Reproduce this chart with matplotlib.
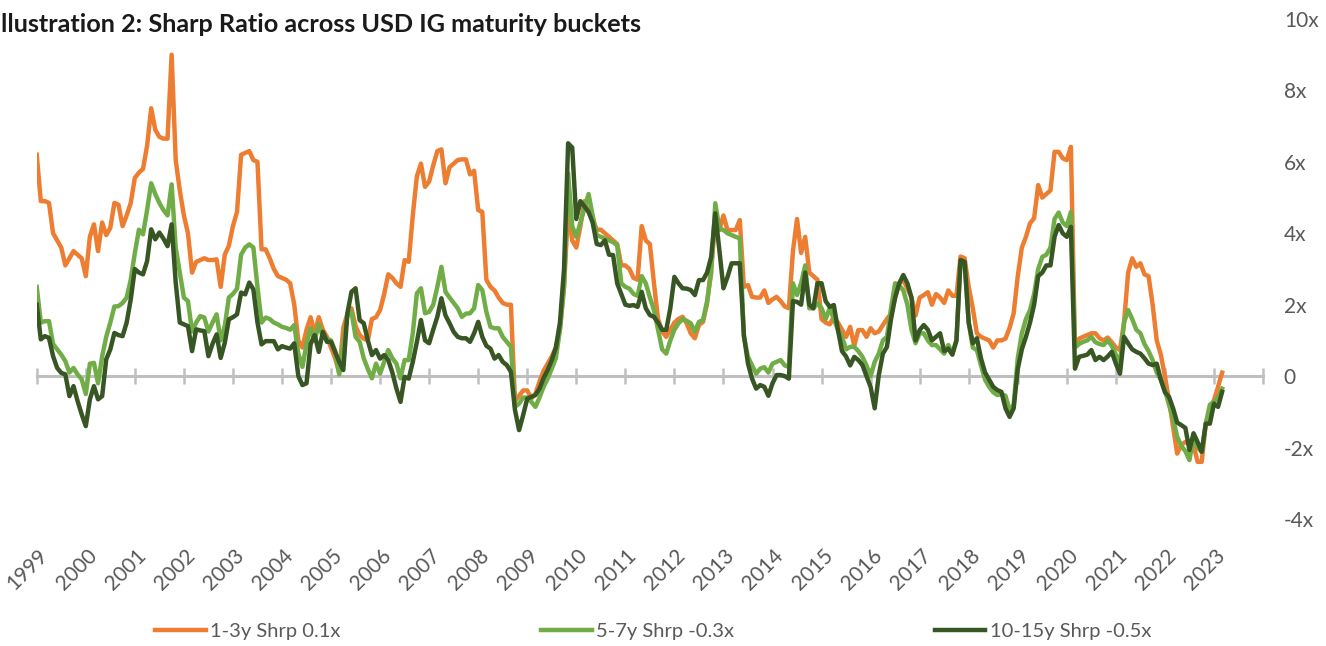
import numpy as np
import matplotlib
matplotlib.use("Agg")
import matplotlib.pyplot as plt
import matplotlib.transforms as mtransforms

# monthly Sharpe ratios, Jan 1999 .. Mar 2023 (one row per year)
short_1_3y = [
    6.2, 4.9, 4.9, 4.85, 4.0, 3.8, 3.6, 3.1, 3.3, 3.5, 3.4, 3.3,
    2.8, 3.9, 4.25, 3.5, 4.3, 3.95, 4.15, 4.85, 4.8, 4.2, 4.5, 4.85,
    5.55, 5.7, 5.8, 6.45, 7.5, 6.9, 6.7, 6.65, 6.65, 9.0, 6.05, 5.2,
    4.5, 4.0, 2.9, 3.2, 3.25, 3.3, 3.25, 3.25, 3.27, 2.5, 3.4, 3.65,
    4.2, 4.6, 6.2, 6.25, 6.3, 6.05, 6.0, 3.55, 3.55, 3.3, 3.0, 2.8,
    2.75, 2.7, 2.6, 2.0, 1.0, 0.8, 1.3, 1.65, 1.2, 1.65, 1.3, 1.1,
    0.8, 0.5, 0.1, 1.35, 1.75, 1.9, 1.4, 1.15, 1.05, 1.0, 1.6, 1.65,
    1.85, 2.3, 2.85, 2.75, 2.6, 2.5, 3.25, 3.2, 4.5, 5.6, 5.95, 5.3,
    5.45, 5.9, 6.3, 6.35, 5.4, 5.85, 5.95, 6.05, 6.07, 6.07, 5.65, 5.75,
    4.65, 4.6, 2.7, 2.5, 2.4, 2.2, 2.05, 2.0, 2.0, -0.7, -0.55, -0.4,
    -0.4, -0.62, -0.5, -0.15, 0.15, 0.35, 0.55, 0.8, 1.3, 2.5, 4.65, 3.8,
    3.6, 4.2, 4.9, 4.6, 4.4, 4.1, 4.1, 4.0, 3.9, 3.8, 3.7, 3.1,
    3.1, 3.0, 2.75, 2.7, 4.2, 3.8, 3.7, 2.6, 1.6, 1.25, 1.1, 1.3,
    1.5, 1.6, 1.66, 1.48, 1.2, 1.06, 1.43, 1.52, 2.04, 3.06, 4.28, 4.09,
    4.5, 4.09, 4.09, 4.09, 4.37, 2.5, 2.55, 2.22, 2.2, 2.2, 2.4, 2.05,
    2.15, 2.22, 2.1, 1.95, 1.9, 3.5, 4.4, 3.45, 3.9, 2.9, 2.8, 2.7,
    1.6, 1.5, 1.45, 1.66, 1.5, 1.3, 1.1, 1.38, 0.85, 1.29, 1.29, 1.1,
    1.34, 1.2, 1.25, 1.43, 1.6, 1.75, 2.2, 2.6, 2.69, 2.45, 2.2, 1.7,
    2.2, 2.27, 2.35, 2.0, 2.3, 2.2, 2.05, 2.4, 2.25, 2.25, 3.35, 3.3,
    2.5, 1.9, 1.2, 1.1, 1.05, 1.0, 0.8, 1.0, 1.0, 1.05, 1.35, 1.76,
    2.8, 3.6, 3.9, 4.28, 4.42, 5.35, 5.0, 5.1, 5.2, 6.28, 6.28, 6.1,
    6.05, 6.42, 0.8, 1.05, 1.1, 1.15, 1.2, 1.2, 1.06, 1.0, 1.08, 0.95,
    0.8, 0.73, 1.5, 2.9, 3.3, 3.06, 3.16, 2.85, 2.8, 2.0, 1.0, 0.6,
    0.0, -0.67, -1.42, -2.17, -1.93, -1.84, -1.9, -1.93, -2.4, -2.4, -1.33, -0.95,
    -0.67, -0.3, 0.1,
]

mid_5_7y = [
    2.5, 1.5, 1.54, 1.54, 0.9, 0.75, 0.6, 0.42, 0.1, 0.23, 0.05, -0.09,
    -0.5, 0.35, 0.37, -0.2, 0.55, 1.1, 1.5, 1.95, 1.96, 2.05, 2.2, 2.7,
    3.45, 4.1, 3.97, 4.65, 5.4, 5.1, 4.85, 4.65, 4.5, 5.37, 3.6, 2.9,
    2.2, 2.1, 1.25, 1.5, 1.68, 1.64, 1.25, 1.5, 1.73, 1.0, 1.4, 2.2,
    2.3, 2.45, 3.4, 3.6, 3.69, 3.6, 2.5, 1.5, 1.64, 1.6, 1.5, 1.45,
    1.38, 1.35, 1.3, 1.43, 0.63, 0.26, 0.9, 1.34, 1.0, 1.45, 1.1, 1.05,
    1.0, 0.7, 0.05, 0.9, 1.7, 1.8, 1.1, 0.96, 0.5, 0.2, -0.06, 0.35,
    0.07, 0.4, 0.73, 0.5, 0.35, -0.06, 0.45, 0.45, 1.2, 2.32, 2.46, 1.76,
    1.8, 2.0, 2.5, 3.06, 2.36, 2.2, 2.05, 1.9, 1.66, 1.75, 1.76, 1.9,
    2.55, 2.41, 1.8, 1.38, 1.34, 1.34, 1.1, 0.96, 0.82, -0.86, -0.77, -0.6,
    -0.6, -0.72, -0.86, -0.6, -0.3, -0.07, 0.21, 0.5, 1.3, 2.5, 5.68, 4.2,
    3.9, 4.3, 4.7, 5.1, 4.5, 3.95, 3.9, 3.85, 3.8, 3.75, 3.67, 2.6,
    2.5, 2.45, 2.3, 2.25, 2.8, 2.6, 2.2, 1.85, 1.3, 0.75, 0.63, 1.0,
    1.3, 1.48, 1.6, 1.55, 1.48, 1.24, 1.52, 1.57, 2.1, 2.88, 4.84, 4.14,
    4.09, 4.0, 3.95, 3.9, 3.86, 1.1, 0.54, 0.3, 0.07, 0.21, 0.25, 0.1,
    0.35, 0.4, 0.45, 0.3, 0.26, 2.6, 2.27, 2.6, 3.1, 1.9, 1.9, 2.04,
    1.9, 1.6, 1.9, 1.6, 1.3, 1.1, 0.75, 0.82, 0.82, 0.7, 0.54, 0.3,
    0.0, 0.4, 0.63, 1.0, 1.1, 1.9, 2.6, 2.55, 2.4, 2.0, 1.3, 0.92,
    1.2, 1.2, 1.0, 0.87, 0.87, 0.75, 0.63, 0.87, 0.65, 1.0, 3.25, 3.2,
    1.5, 0.8, 0.73, 0.3, -0.1, -0.3, -0.45, -0.53, -0.5, -0.55, -0.95, -0.8,
    0.5, 1.2, 1.6, 1.85, 2.3, 3.0, 3.34, 3.4, 3.6, 4.4, 4.58, 4.3,
    4.2, 4.6, 0.8, 0.9, 0.96, 1.0, 1.1, 0.95, 0.9, 0.87, 1.0, 0.85,
    0.6, 0.35, 1.5, 1.85, 1.6, 1.3, 1.2, 0.9, 0.7, 0.45, 0.1, -0.1,
    -0.4, -0.8, -1.2, -1.7, -1.95, -2.1, -2.35, -1.7, -2.0, -2.12, -1.33, -0.8,
    -0.72, -0.6, -0.35,
]

long_10_15y = [
    2.0, 1.03, 1.12, 1.07, 0.56, 0.23, 0.09, 0.05, -0.56, -0.28, -0.7, -1.07,
    -1.4, -0.65, -0.28, -0.65, -0.56, 0.47, 0.75, 1.21, 1.15, 1.12, 1.5, 2.15,
    3.0, 2.9, 2.85, 3.22, 4.11, 3.83, 4.02, 3.85, 3.64, 4.25, 2.62, 1.5,
    1.45, 1.4, 0.7, 1.31, 1.28, 1.26, 0.56, 0.9, 1.17, 0.51, 0.93, 1.59,
    1.65, 1.73, 2.34, 2.29, 2.62, 2.43, 1.5, 0.89, 0.98, 0.98, 0.98, 0.75,
    0.84, 0.8, 0.77, 0.92, 0.0, -0.25, -0.2, 0.9, 1.15, 0.68, 1.24, 0.96,
    0.96, 0.68, 0.4, 0.17, 1.76, 2.36, 2.46, 1.57, 1.48, 1.0, 0.59, 0.73,
    0.49, 0.59, 0.45, 0.1, -0.35, -0.72, -0.02, -0.07, 0.4, 0.96, 1.57, 1.0,
    0.92, 1.3, 1.66, 2.18, 1.7, 1.48, 1.24, 1.1, 1.06, 1.06, 0.96, 1.2,
    1.52, 1.1, 0.85, 0.77, 0.49, 0.59, 0.4, 0.31, 0.12, -0.95, -1.51, -1.09,
    -0.63, -0.58, -0.53, -0.35, -0.05, 0.17, 0.45, 0.8, 1.5, 3.0, 6.52, 6.4,
    4.4, 4.9, 4.75, 4.6, 4.3, 3.7, 3.67, 3.8, 3.4, 3.39, 2.6, 2.3,
    2.0, 1.97, 1.99, 1.94, 2.36, 1.9, 1.71, 1.66, 1.5, 1.3, 1.29, 1.9,
    2.78, 2.6, 2.46, 2.45, 2.41, 2.27, 2.69, 2.69, 2.9, 3.34, 4.56, 3.53,
    2.46, 2.78, 3.16, 3.16, 3.16, 1.15, 0.35, -0.07, -0.35, -0.25, -0.3, -0.55,
    -0.2, 0.03, 0.03, 0.0, -0.07, 2.1, 2.08, 2.0, 2.9, 2.0, 1.9, 2.6,
    2.6, 2.1, 1.94, 1.99, 1.3, 0.7, 0.55, 0.3, 0.54, 0.45, 0.31, 0.0,
    -0.3, -0.9, 0.03, 0.63, 0.82, 1.6, 2.2, 2.6, 2.83, 2.6, 2.2, 1.0,
    1.29, 1.43, 1.3, 1.0, 1.1, 1.2, 0.7, 0.77, 0.6, 1.0, 3.25, 3.2,
    1.5, 0.92, 1.06, 0.5, 0.1, -0.1, -0.3, -0.39, -0.44, -0.9, -1.14, -0.9,
    0.2, 0.75, 1.1, 1.5, 2.0, 2.8, 2.9, 3.1, 3.1, 3.9, 4.23, 4.0,
    3.9, 4.18, 0.21, 0.54, 0.57, 0.6, 0.73, 0.45, 0.54, 0.45, 0.55, 0.68,
    0.35, 0.07, 1.1, 0.92, 0.75, 0.68, 0.63, 0.5, 0.35, 0.31, 0.35, -0.1,
    -0.45, -0.58, -0.9, -1.3, -1.37, -1.45, -2.07, -1.6, -1.85, -2.12, -1.33, -1.33,
    -0.77, -0.86, -0.44,
]

years = list(range(1999, 2024))
series_labels = ["1-3y Shrp 0.1x", "5-7y Shrp -0.3x", "10-15y Shrp -0.5x"]
colors = ["#ED7D31", "#70AD47", "#375623"]
y_ticks = [10, 8, 6, 4, 2, 0, -2, -4]
y_ticklabels = ["10x", "8x", "6x", "4x", "2x", "0", "-2x", "-4x"]

plt.rcParams["font.family"] = ["Lato", "DejaVu Sans"]
fig = plt.figure(figsize=(13.26, 6.46), dpi=100)
ax = fig.add_axes([0.0277, 0.1966, 0.9248, 0.774])

months = np.arange(len(short_1_3y))
for vals, lab, col in zip([short_1_3y, mid_5_7y, long_10_15y], series_labels, colors):
    ax.plot(months, vals, color=col, lw=3.2, label=lab)

ax.set_xlim(0, 12 * len(years))
ax.set_ylim(-4, 10)

# zero line acts as the category axis
for s in ["top", "left", "right"]:
    ax.spines[s].set_visible(False)
ax.spines["bottom"].set_position(("data", 0))
ax.spines["bottom"].set_color("#BFBFBF")
ax.spines["bottom"].set_linewidth(2.2)
ax.spines["bottom"].set_zorder(0.5)

ax.set_xticks(np.arange(0, 12 * len(years) + 1, 12))
ax.set_xticklabels([str(y) for y in years] + [""], rotation=45,
                   ha="right", va="center", rotation_mode="anchor")
ax.tick_params(axis="x", direction="inout", length=12, width=1.8, color="#BFBFBF",
               pad=121, labelsize=15, labelcolor="#595959")
shift = mtransforms.ScaledTranslation(8 / 100, 0, fig.dpi_scale_trans)
for lbl in ax.get_xticklabels():
    lbl.set_transform(lbl.get_transform() + shift)

ax.yaxis.tick_right()
ax.set_yticks(y_ticks)
ax.set_yticklabels(y_ticklabels)
ax.tick_params(axis="y", length=0, pad=15, labelsize=15, labelcolor="#595959")

fig.text(0.001, 0.962, "llustration 2: Sharp Ratio across USD IG maturity buckets",
         fontsize=18.2, fontweight="bold", color="#1a1a1a", va="center", ha="left")

fig.legend(loc="center", bbox_to_anchor=(0.4925, 0.022), ncol=3, frameon=False,
           fontsize=14.5, handlelength=2.5, handletextpad=0.2, columnspacing=10.0,
           labelcolor="#595959")

fig.savefig("out.png", dpi=100)
